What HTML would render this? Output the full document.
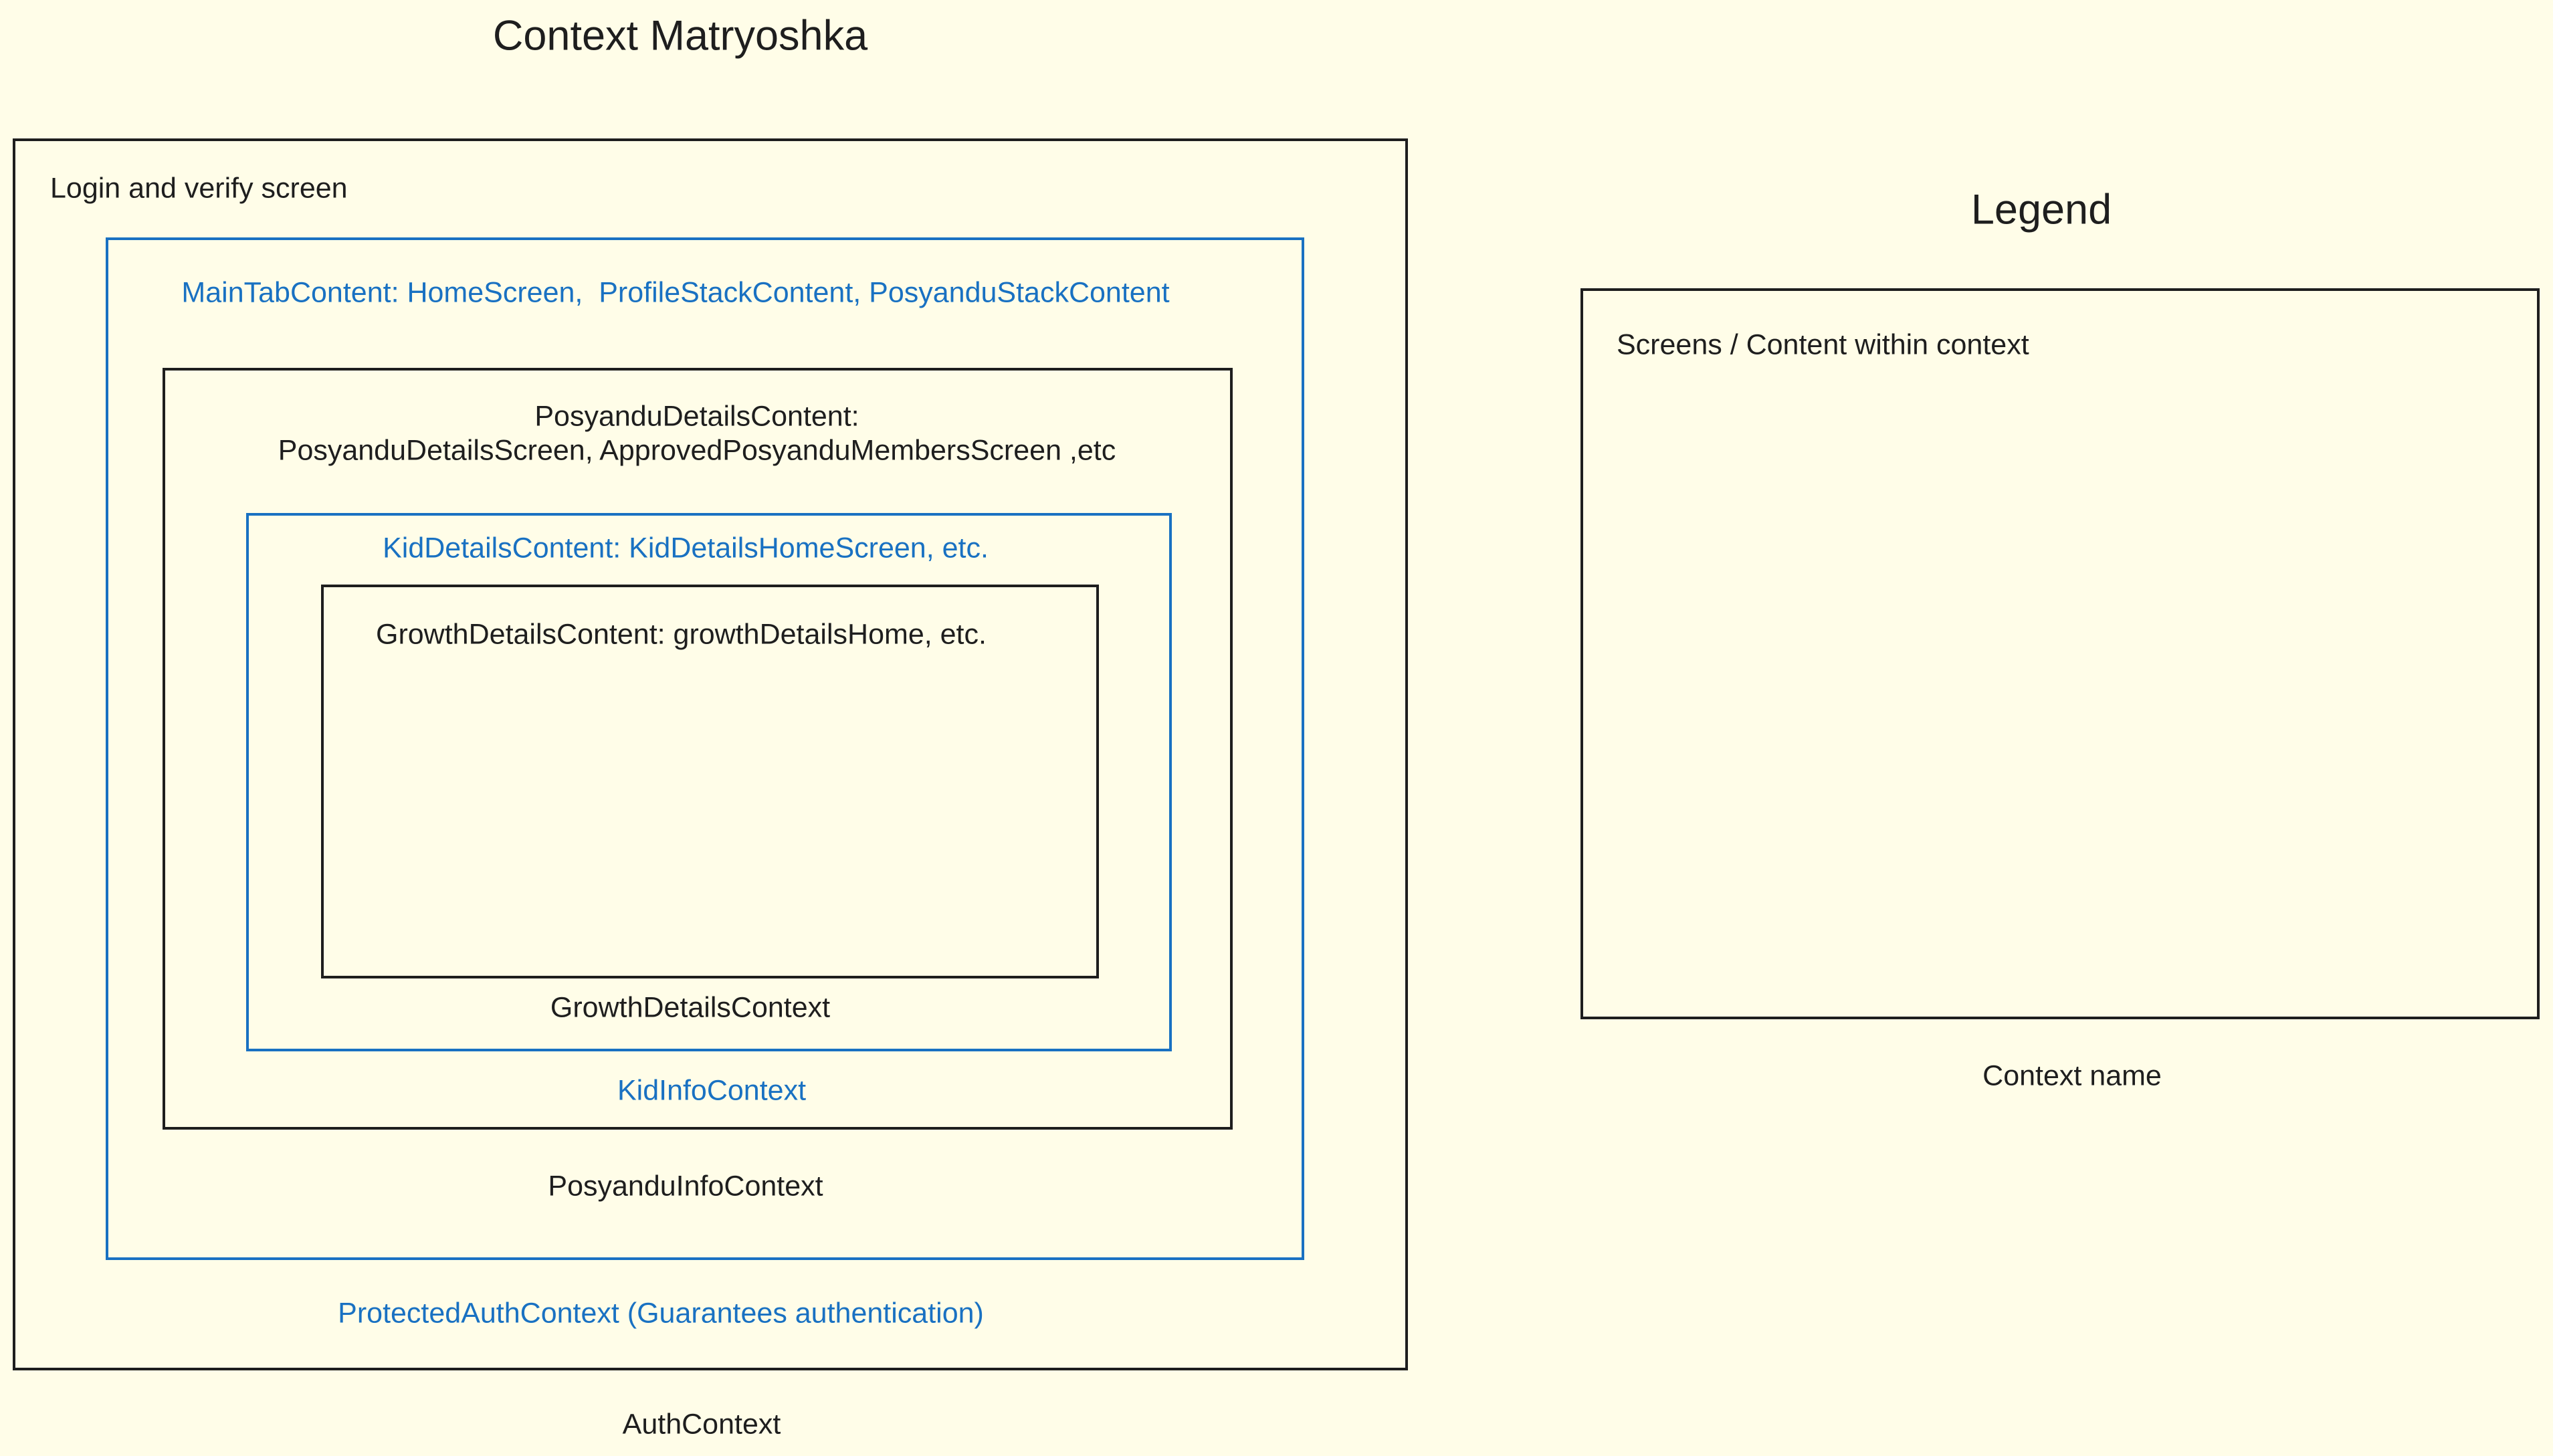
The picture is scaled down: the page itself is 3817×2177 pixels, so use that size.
<!DOCTYPE html>
<html><head><meta charset="utf-8"><style>
html,body{margin:0;padding:0}
body{width:3817px;height:2177px;background:#fffde8;position:relative;overflow:hidden;font-family:"Liberation Sans",sans-serif;color:#1e1e1e}
.b{position:absolute;box-sizing:border-box;border:4px solid #1e1e1e}
.bl{border-color:#1971c2}
.t{position:absolute;font-size:43px;line-height:1;white-space:nowrap}
.c{transform:translate(-50%,-50%)}
.l{transform:translateY(-50%)}
.blue{color:#1971c2}
</style></head><body>
<div class="t c" style="left:1017px;top:54px;font-size:63px">Context Matryoshka</div>
<div class="b" style="left:19px;top:207px;width:2086px;height:1842px"></div>
<div class="t l" style="left:75px;top:282px">Login and verify screen</div>
<div class="b bl" style="left:158px;top:355px;width:1792px;height:1529px"></div>
<div class="t c blue" style="left:1010px;top:438px">MainTabContent: HomeScreen,&nbsp; ProfileStackContent, PosyanduStackContent</div>
<div class="b" style="left:243px;top:550px;width:1600px;height:1139px"></div>
<div class="t c" style="left:1042px;top:623px">PosyanduDetailsContent:</div>
<div class="t c" style="left:1042px;top:674px">PosyanduDetailsScreen, ApprovedPosyanduMembersScreen ,etc</div>
<div class="b bl" style="left:368px;top:767px;width:1384px;height:805px"></div>
<div class="t c blue" style="left:1025px;top:820px">KidDetailsContent: KidDetailsHomeScreen, etc.</div>
<div class="b" style="left:480px;top:874px;width:1163px;height:589px"></div>
<div class="t l" style="left:562px;top:949px">GrowthDetailsContent: growthDetailsHome, etc.</div>
<div class="t c" style="left:1032px;top:1507px">GrowthDetailsContext</div>
<div class="t c blue" style="left:1064px;top:1631px">KidInfoContext</div>
<div class="t c" style="left:1025px;top:1774px">PosyanduInfoContext</div>
<div class="t c blue" style="left:988px;top:1964px">ProtectedAuthContext (Guarantees authentication)</div>
<div class="t c" style="left:1049px;top:2130px">AuthContext</div>
<div class="t c" style="left:3052px;top:314px;font-size:63px">Legend</div>
<div class="b" style="left:2363px;top:431px;width:1434px;height:1093px"></div>
<div class="t l" style="left:2417px;top:516px">Screens / Content within context</div>
<div class="t c" style="left:3098px;top:1609px">Context name</div>
</body></html>
